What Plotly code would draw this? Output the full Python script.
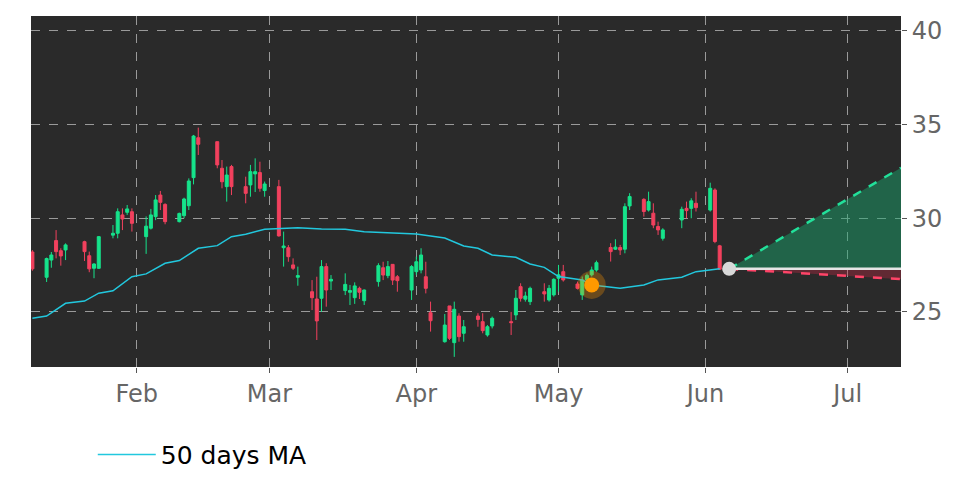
import plotly.graph_objects as go
import pandas as pd

# trading days Jan 10 - Jun 4 2025 (NYSE holidays removed)
holidays = ['2025-01-20', '2025-02-17', '2025-04-18', '2025-05-26']
dates = [d for d in pd.bdate_range('2025-01-10', '2025-06-04') if d.strftime('%Y-%m-%d') not in holidays]

opens = [28.2, 26.85, 27.77, 28.81, 28.27, 28.31, 28.75, 28.0, 27.33, 27.33, 29.1, 29.2, 30.18, 30.32, 30.35,
         29.02, 29.47, 30.09, 31.24, 30.74, 29.82, 30.14, 30.67, 32.17, 34.3, 34.09, 32.67, 31.69, 32.76, 31.69,
         31.78, 32.37, 32.44, 31.48,
         31.69, 28.43, 28.43, 27.51, 26.85, 26.08, 25.69, 25.73, 27.42, 26.65, 26.14, 26.05, 25.76, 26.26, 25.6,
         26.62, 27.36, 26.94, 27.54, 26.88, 26.17,
         27.15, 27.24, 26.88, 24.96, 23.41, 25.32, 23.36, 24.78, 23.86, 24.78, 24.48, 23.77, 24.25, 24.48, 24.84,
         26.35, 25.68, 25.55, 26.08, 25.64, 25.91,
         26.8, 27.15, 26.49, 25.91, 26.7, 26.98, 27.24, 28.44, 28.35, 28.44, 28.35, 30.66, 31.01, 30.44, 30.27,
         29.56, 28.93, 29.91, 30.53, 30.53, 30.8,
         30.44, 31.51, 28.53]
highs = [28.3, 27.9, 28.2, 29.37, 28.4, 28.66, 28.8, 28.22, 27.6, 29.05, 29.64, 30.53, 30.53, 30.71, 30.53,
         30.1, 30.5, 31.24, 31.46, 30.8, 30.3, 31.1, 32.13, 34.45, 34.84, 34.1, 33.11, 32.76, 32.85, 32.22,
         32.85, 33.2, 33.02, 31.96,
         32.05, 29.29, 28.57, 27.86, 27.42, 26.7, 26.88, 27.77, 27.6, 26.97, 27.06, 26.44, 26.58, 26.35, 26.2,
         27.6, 27.68, 27.72, 27.54, 26.97, 27.5,
         27.95, 28.4, 27.68, 25.55, 24.89, 25.32, 25.55, 24.93, 24.57, 24.93, 24.93, 24.3, 24.75, 25.0, 26.17,
         26.53, 26.08, 26.35, 26.53, 26.44, 26.8,
         27.51, 27.51, 26.62, 26.89, 27.05, 27.42, 27.74, 28.67, 28.88, 28.58, 30.8, 31.34, 31.07, 31.42, 30.8,
         29.82, 29.47, 30.62, 30.89, 31.07, 31.42,
         31.9, 31.6, 28.58]
lows = [27.2, 26.6, 27.36, 27.86, 27.47, 27.77, 27.72, 27.12, 26.8, 27.3, 28.93, 28.93, 29.37, 30.18, 29.29,
        28.1, 29.4, 29.9, 30.44, 29.68, 29.78, 30.0, 30.44, 31.81, 33.38, 32.67, 31.6, 30.89, 31.24, 30.8,
        31.15, 31.4, 31.42, 31.15,
        29.02, 27.42, 27.68, 27.24, 26.4, 25.1, 23.5, 25.0, 25.28, 26.17, 25.9, 25.37, 25.43, 25.69, 25.37,
        26.35, 26.7, 26.8, 26.44, 26.08, 25.64,
        26.97, 27.06, 25.99, 23.95, 23.36, 23.5, 22.6, 23.41, 23.41, 24.21, 23.86, 23.68, 24.12, 23.77, 24.57,
        25.55, 25.55, 25.37, 25.55, 25.55, 25.82,
        26.08, 26.62, 26.2, 25.64, 26.6, 26.89, 27.15, 27.69, 28.31, 28.04, 28.13, 30.44, 30.09, 30.36, 29.47,
        29.11, 28.81, 29.47, 30.0, 30.0, 30.36,
        30.36, 28.67, 27.24]
closes = [27.3, 27.85, 28.04, 28.22, 27.99, 28.58, 28.22, 27.3, 27.56, 29.02, 29.2, 30.35, 29.96, 30.5, 29.73,
          29.58, 30.18, 30.98, 30.85, 29.82, 30.26, 31.03, 31.99, 34.39, 33.95, 32.85, 31.95, 32.31, 31.69, 31.33,
          32.49, 32.49, 31.6, 31.83,
          29.06, 28.52, 27.95, 27.33, 26.94, 25.76, 24.52, 27.42, 26.17, 26.74, 26.47, 26.14, 26.39, 26.05, 26.17,
          27.47, 26.97, 27.42, 26.7, 26.67, 27.42,
          27.68, 28.04, 26.26, 24.53, 24.3, 23.59, 25.14, 23.68, 24.21, 24.6, 24.0, 24.21, 24.66, 24.43, 25.73,
          25.73, 25.85, 26.26, 25.96, 26.26, 26.74,
          26.98, 26.71, 26.26, 26.71, 26.95, 27.24, 27.63, 28.22, 28.46, 28.31, 30.62, 31.16, 30.36, 30.89, 29.64,
          29.38, 29.38, 30.48, 30.41, 30.93, 30.57,
          31.6, 28.76, 27.28]

ma_dates = ['2025-01-10', '2025-01-13', '2025-01-17', '2025-01-21', '2025-01-24', '2025-01-27', '2025-01-31',
            '2025-02-03', '2025-02-07', '2025-02-10', '2025-02-14', '2025-02-18', '2025-02-21', '2025-02-24',
            '2025-02-28', '2025-03-03', '2025-03-07', '2025-03-12', '2025-03-17', '2025-03-21', '2025-03-26',
            '2025-04-01', '2025-04-04', '2025-04-07', '2025-04-11', '2025-04-14', '2025-04-17', '2025-04-22',
            '2025-04-25', '2025-04-28', '2025-05-01', '2025-05-06', '2025-05-08', '2025-05-14', '2025-05-19',
            '2025-05-22', '2025-05-27', '2025-05-30', '2025-06-04']
ma_values = [24.66, 24.78, 25.46, 25.58, 26.0, 26.13, 26.88,
             27.03, 27.6, 27.74, 28.4, 28.54, 29.02, 29.15,
             29.41, 29.45, 29.5, 29.43, 29.41, 29.28, 29.23,
             29.16, 29.05, 28.95, 28.52, 28.4, 28.04, 27.92,
             27.56, 27.38, 26.89, 26.71, 26.44, 26.26, 26.44,
             26.71, 26.85, 27.15, 27.3]

signal_date = ['2025-05-08']
signal_value = [26.44]

# projection cone
proj_dates = ['2025-06-06', '2025-07-12 06:00']
proj_base = [27.3, 27.3]
proj_up = [27.3, 32.7]
proj_down = [27.3, 26.75]

fig = go.Figure()

fig.add_trace(go.Candlestick(
    x=dates, open=opens, high=highs, low=lows, close=closes,
    increasing=dict(line=dict(color='#16e38b', width=1), fillcolor='#16e38b'),
    decreasing=dict(line=dict(color='#f2415e', width=1), fillcolor='#f2415e'),
    showlegend=False, hoverinfo='skip',
))

fig.add_trace(go.Scatter(
    x=ma_dates, y=ma_values, mode='lines', name='50 days MA',
    line=dict(color='#22c8de', width=1.5),
))

# green fill above base, red fill below
fig.add_trace(go.Scatter(x=proj_dates, y=proj_base, mode='lines', line=dict(width=0),
                         showlegend=False, hoverinfo='skip'))
fig.add_trace(go.Scatter(x=proj_dates, y=proj_up, mode='lines', fill='tonexty',
                         fillcolor='rgba(22,170,110,0.45)',
                         line=dict(color='#22e09a', width=2.5, dash='dash'),
                         showlegend=False, hoverinfo='skip'))
fig.add_trace(go.Scatter(x=proj_dates, y=proj_base, mode='lines', line=dict(width=0),
                         showlegend=False, hoverinfo='skip'))
fig.add_trace(go.Scatter(x=proj_dates, y=proj_down, mode='lines', fill='tonexty',
                         fillcolor='rgba(200,40,70,0.35)',
                         line=dict(color='#ff4468', width=2.5, dash='dash'),
                         showlegend=False, hoverinfo='skip'))
fig.add_trace(go.Scatter(x=proj_dates, y=proj_base, mode='lines',
                         line=dict(color='#e6e6e6', width=2.5),
                         showlegend=False, hoverinfo='skip'))

# signal marker with halo
fig.add_trace(go.Scatter(x=signal_date, y=signal_value, mode='markers',
                         marker=dict(size=28, color='rgba(255,150,0,0.3)'),
                         showlegend=False, hoverinfo='skip'))
fig.add_trace(go.Scatter(x=signal_date, y=signal_value, mode='markers',
                         marker=dict(size=15, color='#ff9900'),
                         showlegend=False, hoverinfo='skip'))

fig.add_trace(go.Scatter(x=proj_dates[:1], y=proj_base[:1], mode='markers',
                         marker=dict(size=14, color='#d8d8d8'),
                         showlegend=False, hoverinfo='skip'))

# page body has an 8px margin, so the figure is drawn 8px smaller and shifted
fig.update_layout(
    width=964, height=478,
    margin=dict(l=23, r=71, t=8, b=119),
    paper_bgcolor='white',
    plot_bgcolor='#2a2a2a',
    boxgap=0.1,
    font=dict(family='DejaVu Sans', size=25, color='#666666'),
    showlegend=True,
    legend=dict(orientation='h', x=0.071, y=-0.25, yanchor='middle', xanchor='left',
                itemwidth=58,
                font=dict(size=25, color='black'), bgcolor='rgba(0,0,0,0)'),
    xaxis=dict(
        type='date',
        range=['2025-01-09 17:00', '2025-07-12 06:00'],
        rangeslider=dict(visible=False),
        tick0='2025-01-01', dtick='M1', tickformat='%b',
        showgrid=True, gridcolor='#9a9a9a', griddash='dash', gridwidth=1,
        ticks='outside', ticklen=5, tickcolor='#555555',
        tickfont=dict(size=24, color='#666666'),
        zeroline=False, showline=False,
    ),
    yaxis=dict(
        side='right',
        range=[22.06, 40.8],
        tickvals=[25, 30, 35, 40],
        showgrid=True, gridcolor='#9a9a9a', griddash='dash', gridwidth=1,
        ticks='outside', ticklen=5, tickcolor='#555555',
        tickfont=dict(size=24, color='#666666'),
        zeroline=False, showline=False,
    ),
)

fig.write_html("out.html")
